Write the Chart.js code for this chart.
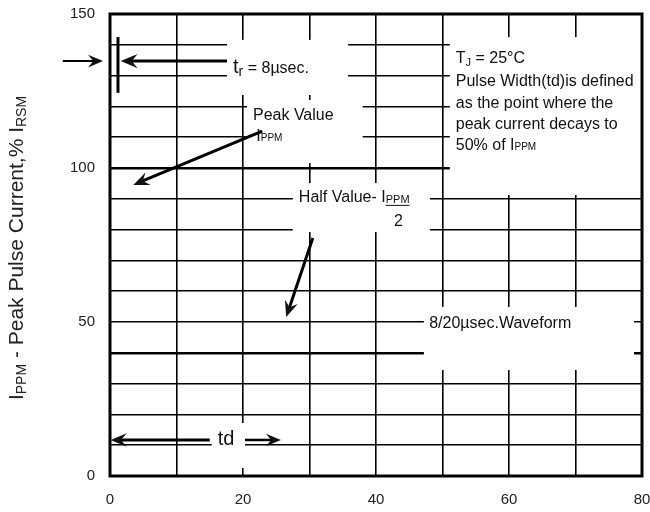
<!DOCTYPE html>
<html>
<head>
<meta charset="utf-8">
<script src="https://cdn.jsdelivr.net/npm/chart.js@4.4.1/dist/chart.umd.min.js"></script>
<style>
  html, body { margin: 0; padding: 0; background: #fff; }
</style>
</head>
<body>
<canvas id="pulseChart" width="650" height="512"></canvas>
<script>
// axis values
var xTickLabels = [0, 20, 40, 60, 80];
var yTickLabels = [0, 50, 100, 150];
var xGridStep = 10;
var yGridStep = 10;
var heavyGridY = [100, 40];

var FONT = '"Liberation Sans", Arial, sans-serif';

// annotation layout, in data units (x = µsec, y = %)
var whiteBoxes = [
    [17.6, 141.6, 35.8, 123.7],   // tr label
    [20.6, 122.1, 38.0, 101.6],   // peak value
    [27.5, 95.1, 48.1, 79.2],     // half value
    [51.1, 142.5, 80.0, 91.2],    // Tj note
    [47.2, 54.9, 78.8, 34.4],     // waveform
    [15.3, 17.2, 20.3, 2.6]       // td
];

function drawRich(ctx, x, y, parts) {
    var cx = x;
    parts.forEach(function (p) {
        ctx.font = p.size + 'px ' + FONT;
        var yy = y + (p.dy || 0);
        ctx.fillText(p.t, cx, yy);
        var w = ctx.measureText(p.t).width;
        if (p.underline) ctx.fillRect(cx, yy + 2, w, 1);
        cx += w;
    });
}

function arrow(ctx, x1, y1, x2, y2, lw, head) {
    var ang = Math.atan2(y2 - y1, x2 - x1);
    var hw = head * 0.42;
    ctx.lineWidth = lw;
    ctx.beginPath();
    ctx.moveTo(x1, y1);
    ctx.lineTo(x2 - Math.cos(ang) * head * 0.6, y2 - Math.sin(ang) * head * 0.6);
    ctx.stroke();
    ctx.save();
    ctx.translate(x2, y2);
    ctx.rotate(ang);
    ctx.beginPath();
    ctx.moveTo(0, 0);
    ctx.lineTo(-head, -hw);
    ctx.lineTo(-head * 0.65, 0);
    ctx.lineTo(-head, hw);
    ctx.closePath();
    ctx.fill();
    ctx.restore();
}

function noPad(s) {
    s.paddingTop = 0;
    s.paddingBottom = 0;
    s.paddingLeft = 0;
    s.paddingRight = 0;
}

var notesPlugin = {
    id: 'notes',
    afterDraw: function (chart) {
        var ctx = chart.ctx;
        var xs = chart.scales.x, ys = chart.scales.y;
        var a = chart.chartArea;
        function px(v) { return xs.getPixelForValue(v); }
        function py(v) { return ys.getPixelForValue(v); }

        ctx.save();
        // white label backgrounds over the grid
        ctx.fillStyle = '#fff';
        whiteBoxes.forEach(function (b) {
            ctx.fillRect(px(b[0]), py(b[1]), px(b[2]) - px(b[0]), py(b[3]) - py(b[1]));
        });

        // frame
        ctx.strokeStyle = '#000';
        ctx.lineWidth = 3;
        ctx.strokeRect(a.left, a.top, a.right - a.left, a.bottom - a.top);

        ctx.fillStyle = '#111';
        ctx.strokeStyle = '#000';
        ctx.textAlign = 'left';
        ctx.textBaseline = 'alphabetic';

        // rise time marker
        ctx.lineWidth = 3;
        ctx.beginPath();
        ctx.moveTo(px(1.2), py(142.5));
        ctx.lineTo(px(1.2), py(124.4));
        ctx.stroke();
        arrow(ctx, px(-7.1), py(134.7), px(-1.05), py(134.7), 2, 15);
        arrow(ctx, px(17.6), py(134.7), px(1.6), py(134.7), 3, 17);

        drawRich(ctx, px(18.5), py(130.8), [
            { t: 't', size: 20 }, { t: 'r', size: 14, dy: 3 }, { t: ' = 8µsec.', size: 16 }
        ]);

        // peak value
        drawRich(ctx, px(21.5), py(115.6), [{ t: 'Peak Value', size: 16 }]);
        drawRich(ctx, px(22.0), py(108.8), [{ t: 'I', size: 16 }, { t: 'PPM', size: 10 }]);
        arrow(ctx, px(22.9), py(112.0), px(3.5), py(94.5), 3, 16);

        // half value
        drawRich(ctx, px(28.4), py(89.0), [
            { t: 'Half Value- I', size: 16 }, { t: 'PPM', size: 11, dy: 1, underline: true }
        ]);
        drawRich(ctx, px(42.7), py(81.2), [{ t: '2', size: 16 }]);
        arrow(ctx, px(30.5), py(77.3), px(26.5), py(51.6), 3, 16);

        // Tj note
        var nx = px(52.0);
        drawRich(ctx, nx, py(134.1), [{ t: 'T', size: 16 }, { t: 'J', size: 11, dy: 3 }, { t: ' = 25°C', size: 16 }]);
        drawRich(ctx, nx, py(126.6), [{ t: 'Pulse Width(td)is defined', size: 16 }]);
        drawRich(ctx, nx, py(119.6), [{ t: 'as the point where the', size: 16 }]);
        drawRich(ctx, nx, py(112.7), [{ t: 'peak current decays to', size: 16 }]);
        drawRich(ctx, nx, py(105.7), [{ t: '50% of I', size: 16 }, { t: 'PPM', size: 10 }]);

        // waveform
        drawRich(ctx, px(48.0), py(48.1), [{ t: '8/20µsec.Waveform', size: 16 }]);

        // td
        drawRich(ctx, px(16.2), py(10.1), [{ t: 'td', size: 20 }]);
        arrow(ctx, px(15.0), py(11.7), px(0.1), py(11.7), 3, 16);
        arrow(ctx, px(20.3), py(11.7), px(25.7), py(11.7), 2.5, 15);

        // y title with subscripts, rotated
        ctx.translate(23, (a.top + a.bottom) / 2 + 3);
        ctx.rotate(-Math.PI / 2);
        var parts = [
            { t: 'I', size: 21 }, { t: 'PPM', size: 14, dy: 3 },
            { t: ' - Peak Pulse Current,% I', size: 21 }, { t: 'RSM', size: 14, dy: 3 }
        ];
        var total = 0;
        parts.forEach(function (p) { ctx.font = p.size + 'px ' + FONT; total += ctx.measureText(p.t).width; });
        ctx.fillStyle = '#222';
        drawRich(ctx, -total / 2, 0, parts);
        ctx.restore();
    }
};

var ctx = document.getElementById('pulseChart').getContext('2d');

var myChart = new Chart(ctx, {
    type: 'scatter',
    data: { datasets: [] },
    options: {
        responsive: false,
        animation: false,
        layout: { padding: { top: 14, right: 8, left: 0, bottom: 0 } },
        plugins: { legend: { display: false }, tooltip: { enabled: false } },
        scales: {
            x: {
                type: 'linear',
                min: 0,
                max: 80,
                afterFit: function (s) { s.height = 36; noPad(s); },
                border: { display: false },
                grid: { color: '#000', lineWidth: 1.6, drawTicks: false },
                ticks: {
                    stepSize: xGridStep,
                    autoSkip: false,
                    maxRotation: 0,
                    padding: 15,
                    color: '#222',
                    font: { family: FONT, size: 15 },
                    callback: function (v) { return xTickLabels.indexOf(v) >= 0 ? String(v) : ''; }
                }
            },
            y: {
                min: 0,
                max: 150,
                afterFit: function (s) { s.width = 110; noPad(s); },
                border: { display: false },
                grid: {
                    color: '#000',
                    drawTicks: false,
                    lineWidth: function (c) {
                        return c.tick && heavyGridY.indexOf(c.tick.value) >= 0 ? 2.6 : 1.6;
                    }
                },
                ticks: {
                    stepSize: yGridStep,
                    autoSkip: false,
                    padding: 15,
                    color: '#222',
                    font: { family: FONT, size: 15 },
                    callback: function (v) { return yTickLabels.indexOf(v) >= 0 ? String(v) : ''; }
                }
            }
        }
    },
    plugins: [notesPlugin]
});
</script>
</body>
</html>
